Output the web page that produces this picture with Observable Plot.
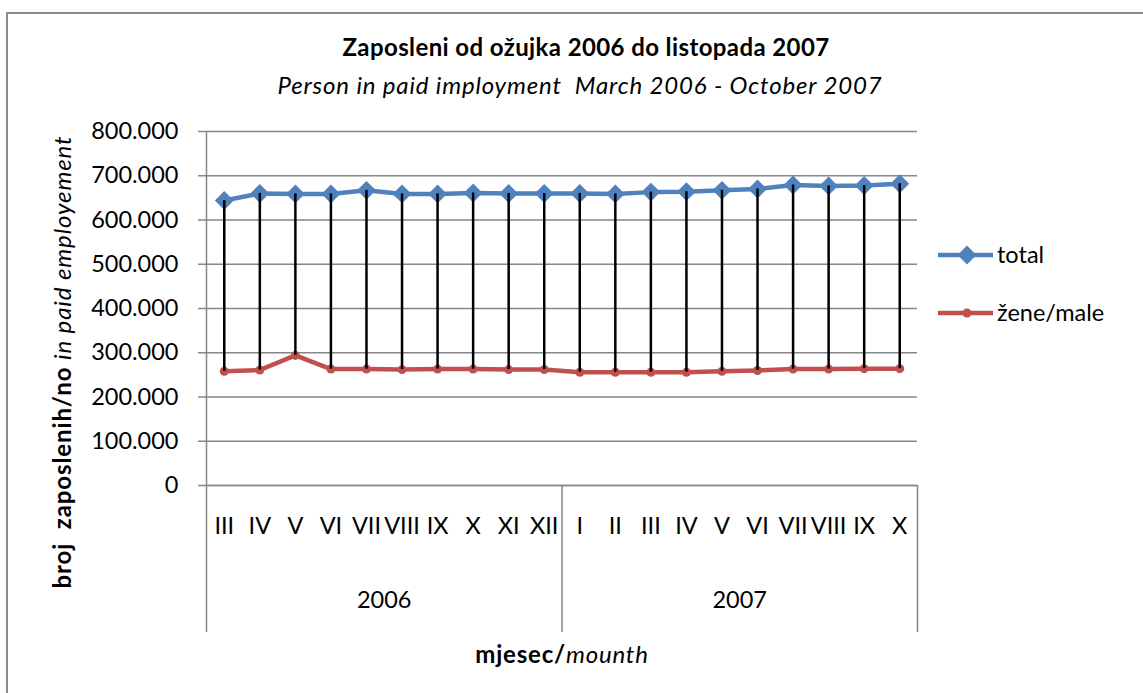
<!DOCTYPE html>
<html>
<head>
<meta charset="utf-8">
<script src="https://cdn.jsdelivr.net/npm/d3@7"></script>
<script src="https://cdn.jsdelivr.net/npm/@observablehq/plot@0.6"></script>
<style>
  body { margin: 0; background: #fff; font-family: Lato, "Noto Sans", sans-serif; }
  #wrap { position: relative; width: 1143px; height: 693px; overflow: hidden; background: #fff; }
  #border { position: absolute; left: 6px; top: 12px; width: 1200px; height: 800px;
            border-left: 2px solid #8c8c8c; border-top: 2px solid #8c8c8c; }
  #chart { position: absolute; left: 0; top: 0; }
  .t { position: absolute; white-space: pre; color: #000; transform: translate(-50%, -50%); line-height: 1; }
  .b { font-weight: 700; }
  .i { font-style: italic; }
  .leg { position: absolute; white-space: pre; color: #000; font-size: 23.5px; line-height: 1; transform: translateY(-50%); }
  .sw { position: absolute; }
</style>
</head>
<body>
<div id="wrap">
  <div id="border"></div>
  <div id="chart"></div>
  <div class="t b" style="left:586px; top:47px; font-size:24px; letter-spacing:0.4px;">Zaposleni od ožujka 2006 do listopada 2007</div>
  <div class="t i" style="left:580px; top:85px; font-size:24px; letter-spacing:0.85px;">Person in paid imployment  March 2006 - October 2007</div>
  <div class="t" style="left:62px; top:362px; font-size:24px; letter-spacing:0.9px; transform: translate(-50%, -50%) rotate(-90deg);"><span class="b">broj  zaposlenih/no </span><span class="i">in paid employement</span></div>
  <div class="t" style="left:562px; top:654px; font-size:24px; letter-spacing:0.8px;"><span class="b">mjesec/</span><span class="i">mounth</span></div>
  <svg class="sw" style="left:936px; top:243px;" width="60" height="24" id="sw1"></svg>
  <div class="leg" id="leg1" style="left:997px; top:255px;"></div>
  <svg class="sw" style="left:936px; top:301px;" width="60" height="24" id="sw2"></svg>
  <div class="leg" id="leg2" style="left:997px; top:313px;"></div>
</div>
<script>
// ---- data ----
const months = ["III","IV","V","VI","VII","VIII","IX","X","XI","XII","I","II","III","IV","V","VI","VII","VIII","IX","X"];
const monthYear = ["2006","2006","2006","2006","2006","2006","2006","2006","2006","2006",
                   "2007","2007","2007","2007","2007","2007","2007","2007","2007","2007"];
const years = ["2006","2007"];
const seriesNames = ["total", "žene/male"];
const totalValues = [644000, 660000, 659000, 659000, 667000, 659000, 659000, 661000, 660000, 660000,
                     660000, 659000, 663000, 664000, 667000, 670000, 679000, 677000, 678000, 682000];
const femaleValues = [258000, 261000, 294000, 263000, 263000, 262000, 263000, 263000, 262000, 262000,
                      256000, 256000, 256000, 256000, 258000, 260000, 263000, 263000, 264000, 264000];
const yTicks = [0, 100000, 200000, 300000, 400000, 500000, 600000, 700000, 800000];

const colors = ["#4f81bd", "#c0504d"];

const data = months.map((m, i) => ({i, month: m, year: monthYear[i], total: totalValues[i], female: femaleValues[i]}));
const yearGroups = years.map(y => {
  const idx = data.filter(d => d.year === y).map(d => d.i);
  return {year: y, center: d3.mean(idx), start: d3.min(idx) - 0.5, end: d3.max(idx) + 0.5};
});
const innerBounds = yearGroups.map(g => g.end);
const leftBound = yearGroups[0].start;

const W = 1143, H = 693;
const mL = 206, mR = 226, mT = 131, mB = 208;
const frameH = H - mT - mB;
const boxDepth = 147;
const FS = 23.5;

const fmt = d => d === 0 ? "0" : d3.format(",")(d).replace(/,/g, ".");

const chart = Plot.plot({
  width: W, height: H,
  marginLeft: mL, marginRight: mR, marginTop: mT, marginBottom: mB,
  style: {fontFamily: "Lato, 'Noto Sans', sans-serif", fontSize: FS + "px", color: "#000", background: "transparent", overflow: "visible"},
  x: {type: "linear", domain: [-0.5, months.length - 0.5], axis: null},
  y: {domain: [0, 800000], axis: null},
  marks: [
    Plot.gridY(yTicks, {stroke: "#868686", strokeOpacity: 1, strokeWidth: 1.5}),
    Plot.axisY(yTicks, {tickSize: 8, tickPadding: 20, tickFormat: fmt, stroke: "#868686", strokeWidth: 1.5, fill: "#000", fontSize: FS, label: null}),
    Plot.ruleY([0], {stroke: "#868686", strokeWidth: 1.5}),
    Plot.ruleX([leftBound], {x: d => d, stroke: "#868686", strokeWidth: 1.5, insetBottom: -boxDepth}),
    Plot.ruleX(innerBounds, {x: d => d, stroke: "#868686", strokeWidth: 1.5, insetTop: frameH, insetBottom: -boxDepth}),
    Plot.text(data, {x: "i", text: "month", frameAnchor: "bottom", dy: 48, fontSize: FS, fill: "#000"}),
    Plot.text(yearGroups, {x: "center", text: "year", frameAnchor: "bottom", dy: 122, fontSize: FS, fill: "#000"}),
    Plot.line(data, {x: "i", y: "total", stroke: colors[0], strokeWidth: 4.5}),
    Plot.dot(data, {x: "i", y: "total", symbol: "diamond2", r: 8.5, fill: colors[0]}),
    Plot.line(data, {x: "i", y: "female", stroke: colors[1], strokeWidth: 4.5}),
    Plot.dot(data, {x: "i", y: "female", r: 4.5, fill: colors[1]}),
    Plot.ruleX(data, {x: "i", y1: "female", y2: "total", stroke: "#000", strokeWidth: 2.5})
  ]
});
document.getElementById("chart").appendChild(chart);

// legend
document.getElementById("leg1").textContent = seriesNames[0];
document.getElementById("leg2").textContent = seriesNames[1];
const sw1 = d3.select("#sw1");
sw1.append("line").attr("x1", 2).attr("x2", 57).attr("y1", 12).attr("y2", 12).attr("stroke", colors[0]).attr("stroke-width", 4.5);
sw1.append("path").attr("d", d3.symbol(d3.symbolDiamond2, Math.PI * 8.5 * 8.5)()).attr("transform", "translate(31,12)").attr("fill", colors[0]);
const sw2 = d3.select("#sw2");
sw2.append("line").attr("x1", 2).attr("x2", 57).attr("y1", 12).attr("y2", 12).attr("stroke", colors[1]).attr("stroke-width", 4.5);
sw2.append("circle").attr("cx", 31).attr("cy", 12).attr("r", 4.5).attr("fill", colors[1]);
</script>
</body>
</html>
